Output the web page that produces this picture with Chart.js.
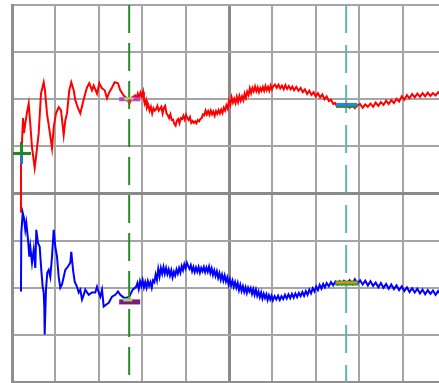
<!DOCTYPE html>
<html><head><meta charset="utf-8">
<script src="https://cdn.jsdelivr.net/npm/chart.js@4"></script>
<style>html,body{margin:0;padding:0;background:#fff;overflow:hidden;}#wrap{width:460px;height:383px;}</style>
</head><body><div id="wrap"><canvas id="c" width="460" height="383"></canvas></div>
<script>
// Time axis in divisions (0..10), amplitude in divisions (-4..4)
const xTicks = [0,1,2,3,4,5,6,7,8,9,10];
const yTicks = [-4,-3,-2,-1,0,1,2,3,4];

const redT = [0.207,0.207,0.23,0.253,0.276,0.306,0.346,0.385,0.415,0.461,0.523,0.553,0.615,0.668,0.730,0.760,0.806,0.853,0.922,0.961,1.014,1.076,1.129,1.191,1.228,1.267,1.320,1.366,1.422,1.459,1.521,1.574,1.629,1.675,1.728,1.781,1.843,1.882,1.959,2.012,2.074,2.136,2.189,2.242,2.304,2.366,2.442,2.495,2.574,2.650,2.703,2.765,2.841,
2.87,2.90,2.93,2.96,2.99,3.02,3.04,3.06,3.09,3.11,3.14,3.17,3.20,3.23,3.26,3.29,3.32,3.35,3.38,3.41,3.44,3.47,3.50,3.53,3.56,3.59,3.62,3.65,3.68,3.71,3.74,3.77,3.80,3.83,3.86,3.89,3.92,3.95,3.98,4.01,4.04,4.07,4.10,4.13,4.16,4.19,4.22,4.25,4.28,4.31,4.34,4.37,4.40,4.43,4.46,4.49,4.52,4.55,4.58,4.61,4.64,4.67,4.70,4.73,4.76,4.79,4.82,4.85,4.88,4.91,4.94,4.97,5.00,5.03,5.06,5.09,5.12,5.15,5.18,5.21,5.24,5.27,5.30,5.33,5.36,5.39,5.42,5.45,5.48,5.51,5.54,5.57,5.60,5.63,5.66,5.69,5.72,5.75,5.78,5.81,5.84,5.87,5.90,5.93,5.96,5.99,6.02,6.06,6.10,6.14,6.18,6.22,6.26,6.30,6.34,6.38,6.42,6.46,6.50,6.55,6.60,6.65,6.70,6.75,6.80,6.85,6.90,6.95,7.00,7.05,7.10,7.15,7.20,7.25,7.30,7.35,7.40,7.45,7.48,7.55,7.65,7.72,7.78,7.84,7.90,7.96,8.02,8.08,8.14,8.20,8.26,8.32,8.38,8.44,8.50,8.56,8.62,8.68,8.74,8.80,8.86,8.92,8.98,9.04,9.10,9.16,9.22,9.28,9.34,9.40,9.46,9.52,9.58,9.64,9.70,9.76,9.82,9.88,9.94,10.0];
const redV = [-0.41,1.07,1.07,1.60,1.28,1.49,1.72,1.91,1.55,0.98,0.54,0.77,1.28,2.12,2.36,2.19,1.70,1.41,0.96,1.41,1.70,1.83,1.77,1.24,1.55,1.70,2.19,2.36,2.19,1.98,1.81,1.70,1.91,2.08,2.25,2.34,2.19,2.29,2.12,2.34,2.23,2.19,2.02,2.15,2.25,2.36,2.34,2.19,2.08,2.02,1.91,2.04,2.08,
2.02,2.12,2.03,2.14,2.06,2.16,1.98,1.90,1.98,1.82,
1.88,1.76,1.84,1.70,1.81,1.76,1.79,1.86,1.76,1.80,
1.84,1.70,1.82,1.86,1.70,1.66,1.60,1.68,1.56,1.57,
1.48,1.44,1.55,1.58,1.49,1.60,1.58,1.65,1.57,1.67,
1.60,1.56,1.62,1.50,1.54,1.50,1.53,1.49,1.56,1.53,
1.58,1.60,1.68,1.66,1.76,1.68,1.75,1.67,1.76,1.68,
1.74,1.65,1.75,1.69,1.77,1.70,1.78,1.71,1.82,1.76,
1.87,1.80,1.97,1.88,2.04,1.93,2.01,1.92,2.05,1.94,
2.07,1.97,2.06,1.98,2.12,2.03,2.16,2.09,2.23,2.13,
2.24,2.17,2.27,2.17,2.25,2.15,2.24,2.18,2.26,2.18,
2.28,2.19,2.26,2.18,2.29,2.21,2.28,2.31,2.24,2.31,
2.23,2.29,2.21,2.30,2.22,2.28,2.21,2.27,2.19,2.26,
2.18,2.24,2.15,2.21,2.11,2.18,2.09,2.15,2.06,2.13,
2.04,2.10,2.00,2.06,1.96,1.99,1.90,1.92,1.86,
1.89,1.86,1.88,1.82,1.89,1.81,1.87,1.90,1.82,1.89,
1.84,1.91,1.84,1.93,1.86,1.94,1.88,1.97,1.90,1.98,
1.92,2.01,1.95,2.06,1.99,2.09,2.02,2.11,2.04,2.12,
2.05,2.13,2.06,2.14,2.07,2.13,2.08,2.15,2.09,2.14,
2.12];

const blueT = [0.207,0.214,0.247,0.276,0.306,0.329,0.369,0.399,0.422,0.461,0.500,0.537,0.560,0.599,0.638,0.675,0.707,0.730,0.744,0.753,0.783,0.813,0.846,0.882,0.922,0.961,0.998,1.037,1.076,1.113,1.152,1.191,1.228,1.290,1.343,1.366,1.406,1.445,1.498,1.537,1.574,1.613,1.652,1.689,1.767,1.843,1.919,1.959,1.998,2.035,2.074,2.113,2.166,2.228,2.304,2.380,2.442,2.495,2.574,2.650,2.703,2.781,
2.86,2.89,2.92,2.95,2.98,3.01,3.04,3.07,3.10,3.13,3.16,3.19,3.22,3.25,3.28,3.31,3.34,3.37,3.40,3.43,3.46,3.49,3.52,3.55,3.58,3.61,3.64,3.67,3.70,3.73,3.76,3.79,3.82,3.85,3.88,3.91,3.94,3.97,4.00,4.03,4.06,4.09,4.12,4.15,4.18,4.21,4.24,4.27,4.30,4.33,4.36,4.39,4.42,4.45,4.48,4.51,4.54,4.57,4.60,4.63,4.66,4.69,4.72,4.75,4.78,4.81,4.84,4.87,4.90,4.93,4.96,4.99,5.02,5.05,5.08,5.11,5.14,5.17,5.20,5.23,5.26,5.29,5.32,5.35,5.38,5.41,5.44,5.47,5.50,5.53,5.56,5.59,5.62,5.65,5.68,5.71,5.74,5.77,5.80,5.83,5.86,5.89,5.92,5.95,5.98,6.01,6.05,6.09,6.13,6.17,6.21,6.25,6.29,6.33,6.37,6.41,6.45,6.49,6.53,6.57,6.61,6.65,6.69,6.73,6.77,6.81,6.85,6.89,6.93,6.97,7.01,7.05,7.09,7.13,7.17,7.21,7.25,7.30,7.35,7.40,7.45,7.50,7.55,7.60,7.65,7.72,7.78,7.84,7.90,7.96,8.02,8.08,8.14,8.20,8.26,8.32,8.38,8.44,8.50,8.56,8.62,8.68,8.74,8.80,8.86,8.92,8.98,9.04,9.10,9.16,9.22,9.28,9.34,9.40,9.46,9.52,9.58,9.64,9.70,9.76,9.82,9.88,9.94,10.0];
const blueV = [-2.08,-0.84,-0.41,-0.52,-0.77,-0.62,-0.98,-1.34,-1.13,-1.47,-1.19,-1.58,-0.77,-1.05,-1.13,-1.62,-1.98,-2.10,-2.40,-2.99,-2.04,-1.68,-1.62,-1.77,-1.34,-0.77,-1.13,-1.34,-1.77,-2.00,-1.93,-1.77,-1.62,-1.55,-1.47,-1.24,-1.62,-1.87,-1.98,-2.10,-2.04,-2.25,-2.15,-2.04,-2.15,-2.10,-2.10,-1.98,-2.10,-2.19,-2.04,-2.40,-2.36,-2.32,-2.19,-2.15,-2.08,-2.15,-2.21,-2.21,-2.19,-2.04,
-1.98,-1.90,-2.03,-1.86,-1.96,-1.84,-1.99,-1.88,-2.00,-1.86,
-1.96,-1.88,-2.00,-1.84,-1.88,-1.72,-1.84,-1.60,-1.76,-1.58,
-1.70,-1.56,-1.70,-1.58,-1.71,-1.61,-1.74,-1.63,-1.78,-1.66,
-1.74,-1.61,-1.70,-1.58,-1.68,-1.54,-1.63,-1.50,-1.59,-1.47,
-1.54,-1.60,-1.52,-1.65,-1.56,-1.67,-1.57,-1.66,-1.56,-1.68,
-1.58,-1.65,-1.56,-1.67,-1.57,-1.66,-1.55,-1.69,-1.59,-1.73,
-1.63,-1.75,-1.65,-1.79,-1.69,-1.83,-1.72,-1.85,-1.74,-1.87,
-1.78,-1.93,-1.82,-1.95,-1.85,-1.98,-1.88,-2.00,-1.90,-2.05,
-1.94,-2.07,-1.97,-2.09,-1.99,-2.11,-2.00,-2.08,-2.01,-2.13,
-2.03,-2.15,-2.04,-2.17,-2.08,-2.20,-2.10,-2.23,-2.13,-2.22,
-2.14,-2.26,-2.16,-2.25,-2.17,-2.27,-2.18,-2.25,-2.17,-2.26,
-2.18,-2.24,-2.15,-2.23,-2.14,-2.22,-2.13,-2.21,-2.12,-2.20,
-2.11,-2.18,-2.09,-2.17,-2.07,-2.15,-2.04,-2.12,-2.01,-2.08,
-1.97,-2.05,-1.94,-2.02,-1.92,-1.99,-1.90,-1.97,-1.88,-1.95,
-1.87,-1.93,-1.86,-1.92,-1.85,-1.91,-1.84,-1.92,-1.82,-1.91,
-1.84,-1.93,-1.85,-1.95,-1.86,-1.96,-1.89,-1.99,-1.90,-2.00,
-1.92,-2.02,-1.93,-2.03,-1.95,-2.05,-1.97,-2.07,-1.99,-2.09,
-2.01,-2.10,-2.02,-2.12,-2.04,-2.14,-2.05,-2.13,-2.06,-2.15,
-2.07,-2.14,-2.08,-2.10];

// Cursors (time positions) and their marker levels on each trace
const cursorT = [2.70, 7.70];
const cursorColors = ['#2a8a2a', '#5cb5b5'];
const markRed = [2.00, 1.88];
const markBlue = [-2.29, -1.89];
const triggerT = [0.207];
const triggerV = [0.86];

const toPts = (t, v) => t.map((x, i) => ({x, y: v[i]}));

const markerPlugin = {
  id: 'markers',
  afterDatasetsDraw(chart) {
    const {ctx, scales: {x, y}} = chart;
    const px = v => x.getPixelForValue(v), py = v => y.getPixelForValue(v);
    ctx.save();
    let cx = px(cursorT[0]);
    let ry = py(markRed[0]);
    ctx.fillStyle = '#c040c8'; ctx.fillRect(cx - 10, ry - 2, 21, 4);
    ctx.fillStyle = '#90e070'; ctx.fillRect(cx - 5, ry - 2, 9, 3);
    ctx.fillStyle = '#ff2020'; ctx.fillRect(cx - 1, ry, 3, 3);
    let by = py(markBlue[0]);
    ctx.fillStyle = '#7a1a7a'; ctx.fillRect(cx - 10, by - 2, 21, 5);
    ctx.fillStyle = '#90e070'; ctx.fillRect(cx - 6, by - 3, 9, 3);
    ctx.fillStyle = '#ff8020'; ctx.fillRect(cx - 1, by - 4, 2, 2);
    cx = px(cursorT[1]);
    ry = py(markRed[1]);
    ctx.fillStyle = '#2e8b3e'; ctx.fillRect(cx - 10, ry - 1, 21, 4);
    ctx.fillStyle = '#1e88e8'; ctx.fillRect(cx - 10, ry - 2, 21, 3);
    ctx.fillStyle = '#e03070'; ctx.fillRect(cx - 1, ry - 2, 2, 2);
    by = py(markBlue[1]);
    ctx.fillStyle = '#2e9b2e'; ctx.fillRect(cx - 11, by - 2, 23, 5);
    ctx.fillStyle = '#ff8c00'; ctx.fillRect(cx - 10, by - 1, 21, 2);
    const tx = px(triggerT[0]), ty = py(triggerV[0]);
    ctx.fillStyle = '#1f8a1f'; ctx.fillRect(x.left + 1, ty - 1, tx - x.left + 9, 3);
    ctx.fillRect(tx - 1, ty - 10, 3, 10);
    ctx.fillStyle = '#2f6fd0'; ctx.fillRect(tx - 1, ty + 2, 3, 9);
    ctx.restore();
  }
};

new Chart(document.getElementById('c'), {
  type: 'scatter',
  data: {
    datasets: [
      {data: toPts([cursorT[0], cursorT[0]], [4, -4]), showLine: true, borderColor: cursorColors[0], borderWidth: 2, borderDash: [28, 10], pointRadius: 0, order: 0},
      {data: toPts([cursorT[1], cursorT[1]], [4, -4]), showLine: true, borderColor: cursorColors[1], borderWidth: 2, borderDash: [28, 12], pointRadius: 0, order: 0},
      {data: toPts(redT, redV), showLine: true, borderColor: '#ff0000', borderWidth: 2, pointRadius: 0, order: 2},
      {data: toPts(blueT, blueV), showLine: true, borderColor: '#0000ff', borderWidth: 2, pointRadius: 0, order: 1}
    ]
  },
  options: {
    responsive: false,
    animation: false,
    layout: {padding: {left: 12, top: 5, right: 14, bottom: 1}},
    plugins: {legend: {display: false}, tooltip: {enabled: false}},
    elements: {line: {tension: 0}},
    scales: {
      x: {
        type: 'linear', min: xTicks[0], max: xTicks[xTicks.length - 1],
        afterBuildTicks: s => { s.ticks = xTicks.map(v => ({value: v})); },
        afterFit: s => { s.height = 0; },
        ticks: {display: false},
        grid: {color: c => (c.tick && c.tick.value === 5) ? '#8a8a8a' : '#a5a5a5', lineWidth: c => (c.tick && c.tick.value === 5) ? 3 : 2, drawTicks: false},
        border: {display: true, color: '#8f8f8f', width: 3}
      },
      y: {
        type: 'linear', min: yTicks[0], max: yTicks[yTicks.length - 1],
        afterBuildTicks: s => { s.ticks = yTicks.map(v => ({value: v})); },
        afterFit: s => { s.width = 0; },
        ticks: {display: false},
        grid: {color: c => (c.tick && c.tick.value === 0) ? '#8a8a8a' : '#a5a5a5', lineWidth: c => (c.tick && c.tick.value === 0) ? 3 : 2, drawTicks: false},
        border: {display: true, color: '#8f8f8f', width: 3}
      }
    }
  },
  plugins: [markerPlugin]
});
</script>
</body></html>
